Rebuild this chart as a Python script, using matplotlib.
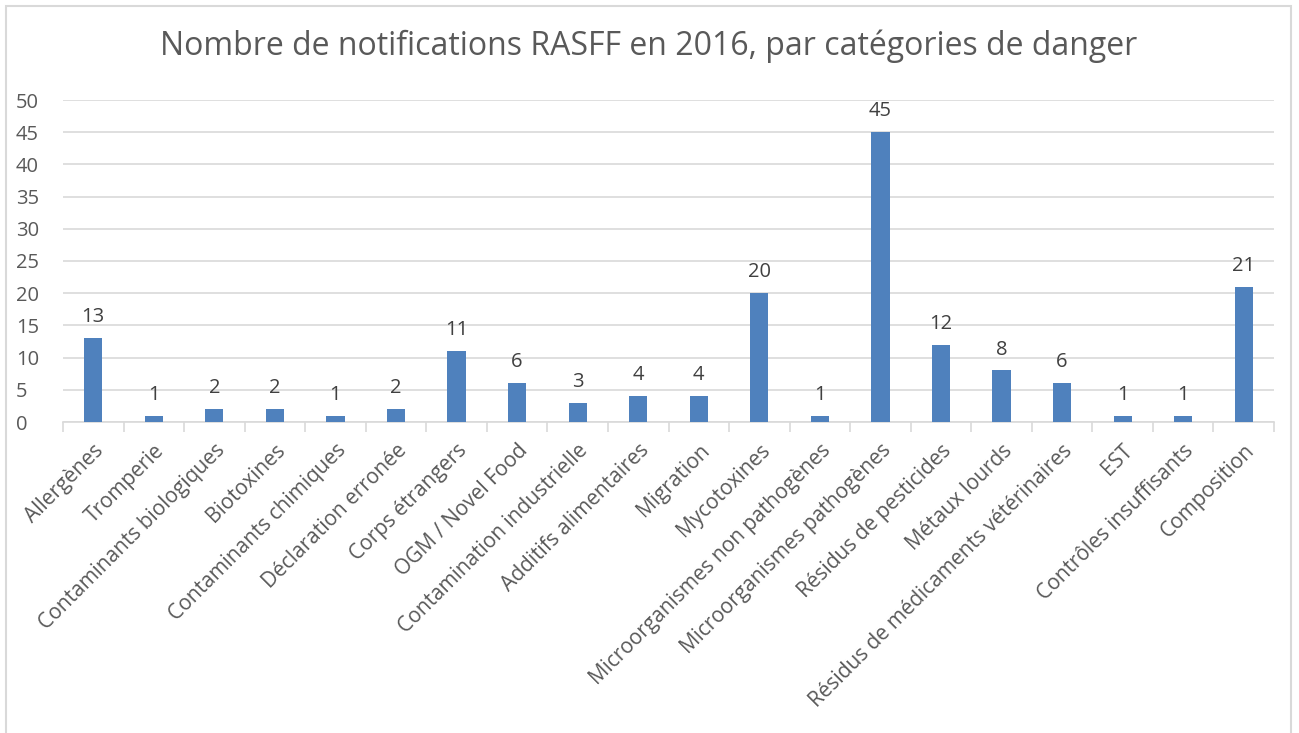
import numpy as np
import matplotlib.pyplot as plt
from matplotlib.patches import Rectangle

plt.rcParams['font.family'] = ['Open Sans', 'DejaVu Sans']

categories = ['Allergènes', 'Tromperie', 'Contaminants biologiques', 'Biotoxines',
              'Contaminants chimiques', 'Déclaration erronée', 'Corps étrangers',
              'OGM / Novel Food', 'Contamination industrielle', 'Additifs alimentaires',
              'Migration', 'Mycotoxines', 'Microorganismes non pathogènes',
              'Microorganismes pathogènes', 'Résidus de pesticides', 'Métaux lourds',
              'Résidus de médicaments vétérinaires', 'EST', 'Contrôles insuffisants',
              'Composition']
values = [13, 1, 2, 2, 1, 2, 11, 6, 3, 4, 4, 20, 1, 45, 12, 8, 6, 1, 1, 21]

title = 'Nombre de notifications RASFF en 2016, par catégories de danger'

fig = plt.figure(figsize=(12.99, 7.33), dpi=100)
fig.patches.append(Rectangle((6 / 1299, -0.1), (1291 - 6) / 1299, 1.1 - 6 / 733,
                             transform=fig.transFigure, fill=False,
                             edgecolor='#D9D9D9', linewidth=1.5))

ax = fig.add_axes([63 / 1299, (733 - 422) / 733, (1274 - 63) / 1299, 322 / 733])
x = np.arange(len(categories))
bars = ax.bar(x, values, width=0.3, color='#4F81BD', zorder=3)

for xi, v in zip(x, values):
    ax.text(xi, v + 1.7, str(v), ha='center', va='bottom', fontsize=14.5, color='#404040')

ax.set_xlim(-0.5, len(categories) - 0.5)
ax.set_ylim(0, 50)
ax.set_yticks(range(0, 51, 5))
ax.yaxis.grid(True, color='#D9D9D9', linewidth=1.2, zorder=0)
ax.set_xticks(x)
ax.set_xticklabels(categories, rotation=45, ha='right', va='top',
                   rotation_mode='anchor', fontsize=15, color='#595959')
ax.tick_params(axis='x', length=0, pad=13)
ax.set_xticks(np.arange(-0.5, len(categories), 1), minor=True)
ax.tick_params(axis='x', which='minor', length=7, color='#D9D9D9', width=1.2)
ax.tick_params(axis='y', length=0, labelsize=14.5, labelcolor='#595959', pad=34)
for lbl in ax.get_yticklabels():
    lbl.set_horizontalalignment('left')
for s in ['top', 'right', 'left']:
    ax.spines[s].set_visible(False)
ax.spines['bottom'].set_color('#D9D9D9')
ax.spines['bottom'].set_linewidth(1.2)

fig.text(649 / 1299, 1 - 46 / 733, title, ha='center', va='center',
         fontsize=23, color='#595959')

plt.savefig('out.png', dpi=100)
